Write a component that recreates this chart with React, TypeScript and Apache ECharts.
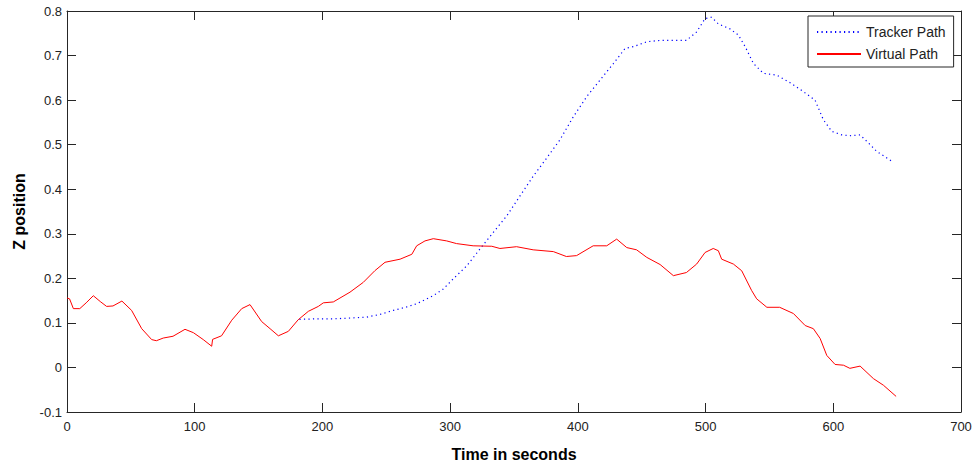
import React, { useEffect, useRef } from "react";
import * as echarts from "echarts";

const xTicks = [0, 100, 200, 300, 400, 500, 600, 700];
const yTicks = [-0.1, 0, 0.1, 0.2, 0.3, 0.4, 0.5, 0.6, 0.7, 0.8];

const virtualT = [
  0, 2, 5, 10, 15, 20.6, 26, 31, 36, 43, 50.6, 58.5, 66.3, 70, 75.4, 83, 92.4, 99, 106.7, 113.3, 114,
  121, 129, 136.8, 143.3, 152.4, 159, 165.5, 173.3, 181, 189, 196.8, 200.7, 208.5, 221.6, 232, 241,
  249, 260.8, 270, 273.8, 280.3, 286.8, 297.3, 305, 318, 332.6, 339, 352, 365, 380.8, 391, 399, 412,
  422.6, 430.4, 438.3, 446, 454, 464.4, 474.8, 485, 493, 499.6, 506, 510, 512.6, 521.8, 528.3, 536,
  540, 548, 558, 568.8, 578, 584.4, 589.7, 594.9, 601.4, 608, 613, 621, 631.4, 639.3, 649.2,
];
const virtualZ = [
  0.156, 0.154, 0.132, 0.132, 0.145, 0.161, 0.148, 0.137, 0.138, 0.149, 0.128, 0.087, 0.0625, 0.06,
  0.066, 0.07, 0.0856, 0.078, 0.0625, 0.0476, 0.063, 0.071, 0.106, 0.132, 0.141, 0.103, 0.087, 0.071,
  0.081, 0.107, 0.126, 0.137, 0.145, 0.147, 0.169, 0.191, 0.217, 0.236, 0.243, 0.254, 0.273, 0.284,
  0.289, 0.284, 0.278, 0.273, 0.272, 0.267, 0.271, 0.264, 0.26, 0.249, 0.251, 0.273, 0.273, 0.288,
  0.269, 0.264, 0.247, 0.231, 0.206, 0.213, 0.232, 0.258, 0.267, 0.262, 0.243, 0.232, 0.217, 0.173,
  0.154, 0.135, 0.135, 0.121, 0.094, 0.087, 0.065, 0.027, 0.0067, 0.005, -0.002, 0.003, -0.025, -0.04,
  -0.065,
];

const trackerT = [
  182, 195, 208.5, 222, 234.7, 245, 255.5, 265, 273.8, 286.8, 294.6, 302.5, 313, 323.4, 333.8, 344.3,
  354.7, 365, 375.6, 386, 396.5, 407, 417.4, 427.8, 437, 443.5, 454, 464.4, 485, 493, 499.6, 504.8, 510,
  519, 525.7, 531, 537.5, 545.3, 555.8, 566.2, 576.6, 585.7, 592.2, 598.8, 606.6, 613, 621, 627.5, 634,
  645.7,
];
const trackerZ = [
  0.108, 0.109, 0.109, 0.111, 0.113, 0.119, 0.128, 0.135, 0.143, 0.161, 0.176, 0.199, 0.228, 0.266,
  0.303, 0.34, 0.385, 0.429, 0.47, 0.511, 0.563, 0.608, 0.645, 0.682, 0.716, 0.72, 0.731, 0.734, 0.734,
  0.753, 0.783, 0.786, 0.771, 0.76, 0.746, 0.72, 0.682, 0.66, 0.656, 0.639, 0.619, 0.6, 0.556, 0.53,
  0.522, 0.52, 0.522, 0.504, 0.485, 0.463,
];

const FONT = "'Liberation Sans', Arial, sans-serif";
const AX = "#262626";

export default function App() {
  const ref = useRef<HTMLDivElement>(null);
  useEffect(() => {
    if (!ref.current) return;
    const chart = echarts.init(ref.current, null, { renderer: "svg" });
    const tick = { show: true, inside: true, length: 9, lineStyle: { color: AX, width: 1 } };
    const line = { show: true, onZero: false, lineStyle: { color: AX, width: 1 } };
    chart.setOption({
      animation: false,
      backgroundColor: "#ffffff",
      grid: { left: 67, top: 11, right: 18, bottom: 53, containLabel: false },
      legend: {
        left: 808,
        top: 16,
        orient: "vertical",
        itemWidth: 44,
        itemHeight: 14,
        itemGap: 8,
        padding: [9, 8, 6, 8],
        borderColor: AX,
        borderWidth: 1,
        backgroundColor: "#ffffff",
        itemStyle: { opacity: 0 },
        textStyle: { fontFamily: FONT, fontSize: 14, color: "#222" },
        data: ["Tracker Path", "Virtual Path"],
      },
      xAxis: [
        {
          type: "value",
          min: 0,
          max: 700,
          interval: 100,
          position: "bottom",
          axisLine: line,
          axisTick: tick,
          splitLine: { show: false },
          axisLabel: {
            fontFamily: FONT,
            fontSize: 13,
            color: "#222",
            margin: 8,
            customValues: xTicks,
          },
          name: "Time in seconds",
          nameLocation: "middle",
          nameGap: 34,
          nameTextStyle: { fontFamily: FONT, fontSize: 16, fontWeight: "bold", color: "#000" },
        },
        {
          type: "value",
          min: 0,
          max: 700,
          interval: 100,
          position: "top",
          axisLine: line,
          axisTick: tick,
          axisLabel: { show: false },
          splitLine: { show: false },
        },
      ],
      yAxis: [
        {
          type: "value",
          min: -0.1,
          max: 0.8,
          interval: 0.1,
          position: "left",
          axisLine: line,
          axisTick: tick,
          splitLine: { show: false },
          axisLabel: {
            fontFamily: FONT,
            fontSize: 13,
            color: "#222",
            margin: 5,
            formatter: (v: number) => {
              const r = Math.round(v * 10) / 10;
              return yTicks.some((t) => Math.abs(t - r) < 1e-9) ? String(r) : "";
            },
          },
          name: "Z position",
          nameLocation: "middle",
          nameGap: 40,
          nameRotate: 90,
          nameTextStyle: { fontFamily: FONT, fontSize: 16, fontWeight: "bold", color: "#000" },
        },
        {
          type: "value",
          min: -0.1,
          max: 0.8,
          interval: 0.1,
          position: "right",
          axisLine: line,
          axisTick: tick,
          axisLabel: { show: false },
          splitLine: { show: false },
        },
      ],
      series: [
        {
          name: "Tracker Path",
          type: "line",
          symbol: "none",
          data: trackerT.map((t, i) => [t, trackerZ[i]]),
          lineStyle: { color: "#0000ff", width: 1.2, type: [1.2, 3.3] },
          itemStyle: { color: "#0000ff" },
        },
        {
          name: "Virtual Path",
          type: "line",
          symbol: "none",
          data: virtualT.map((t, i) => [t, virtualZ[i]]),
          lineStyle: { color: "#ff0000", width: 1 },
          itemStyle: { color: "#ff0000" },
        },
      ],
    });
    return () => chart.dispose();
  }, []);
  return <div ref={ref} style={{ width: 979, height: 467, position: "absolute", left: 0, top: 0 }} />;
}
